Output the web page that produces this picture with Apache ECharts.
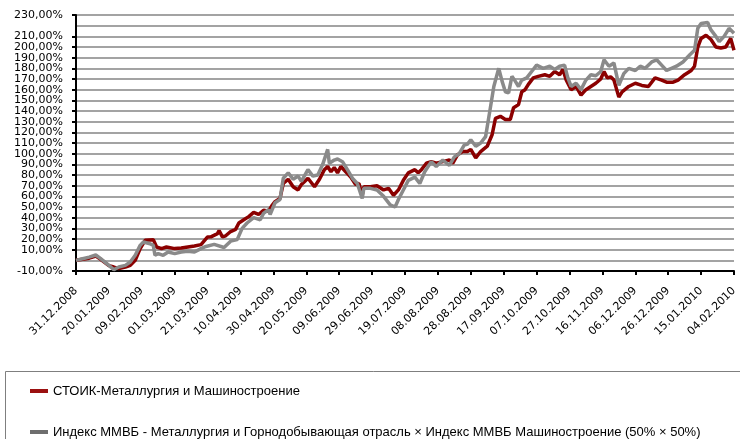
<!DOCTYPE html>
<html>
<head>
<meta charset="utf-8">
<script src="https://cdn.jsdelivr.net/npm/echarts@6/dist/echarts.min.js"></script>
<style>
  html, body { margin: 0; padding: 0; background: #fff; }
  #chart { width: 740px; height: 439px; }
</style>
</head>
<body>
<div id="chart"></div>
<script>
// names of the two series
const seriesNames = [
  'СТОИК-Металлургия и Машиностроение',
  'Индекс ММВБ - Металлургия и Горнодобывающая отрасль × Индекс ММВБ Машиностроение (50% × 50%)'
]
const seriesColors = ['#8b0000', '#8a8a8a']
// days since 31.12.2008 and values in %
const stoikDays = [0, 4, 8, 12, 15, 20, 23, 26, 30, 33, 36, 39, 42, 47, 49, 52, 55, 60, 64, 68, 72, 76, 80,
  82, 86, 87, 89, 91, 94, 97, 99, 102, 105, 108, 111, 114, 117, 119, 121, 124, 126, 129, 132, 135, 137, 139, 141,
  145, 148, 151, 153, 155, 157, 159, 161, 164, 167, 170, 172, 174, 175, 179, 183, 187, 190, 193, 196, 199, 202,
  206, 208, 210, 213, 216, 219, 223, 227, 229, 232, 235, 238, 240, 243, 246, 250, 253, 255, 258, 261, 264, 266,
  269, 271, 273, 275, 278, 281, 285, 288, 291, 294, 296, 298, 301, 304, 307, 310, 313, 316, 319, 321, 323, 325,
  327, 330, 332, 336, 340, 344, 348, 352, 356, 359, 363, 366, 370, 374, 376, 378, 380, 383, 386, 389, 392, 395,
  398, 400]
const stoikValues = [0, 1, 2, 4, 1, -5, -6.3, -7.8, -6.3, -4.7, 0, 11, 18.8, 19.4, 12.5, 11, 12.5, 11, 11.5, 12.5, 13.5, 14.7, 21.9,
  22, 25, 28, 22, 23, 27, 29, 35, 38, 41, 45, 43, 47, 46, 51, 55, 58, 72, 76, 69, 66, 71, 74, 77,
  69, 76, 85, 88, 83, 87, 82, 88, 83, 78, 71, 72, 61, 69, 69, 70, 66, 67.5, 61, 66, 75, 82,
  85, 82, 85, 91, 92.5, 91, 92.5, 94, 91, 99, 102, 102, 104, 96, 102, 107, 118, 133, 135, 132, 132, 143,
  146, 158, 160, 165, 171, 172.5, 174, 172.5, 177, 174, 179, 169, 160, 163, 155, 160, 163, 166, 170, 177, 171, 172,
  169, 153, 158, 163, 166, 164, 163, 171, 169, 167, 167, 169, 174, 178, 182, 200, 208, 211, 207, 200, 199, 200,
  208, 197]
const indexDays = [0, 4, 8, 12, 15, 20, 23, 26, 30, 33, 36, 39, 41, 45, 47, 48, 50, 53, 56, 60, 64, 68, 72, 76, 79,
  84, 90, 94, 98, 101, 104, 108, 112, 114, 117, 118, 121, 124, 126, 129, 132, 135, 137, 141, 144, 147, 150, 153,
  154, 157, 159, 162, 165, 168, 171, 174, 175, 179, 183, 187, 191, 194, 196, 199, 202, 206, 209, 212, 216, 219,
  223, 227, 230, 233, 236, 238, 240, 243, 246, 249, 252, 254, 257, 259, 261, 263, 265, 267, 269, 271, 274, 277,
  280, 284, 288, 291, 294, 297, 299, 301, 304, 307, 310, 313, 316, 319, 321, 324, 327, 330, 333, 336, 340, 343,
  346, 350, 353, 356, 359, 362, 365, 369, 373, 376, 378, 380, 384, 386, 389, 391, 394, 397, 400]
const indexValues = [0, 1.5, 3, 5, 1.6, -4.7, -8.8, -6.3, -4.7, -1.6, 4.7, 14, 17.2, 15.6, 14, 4.7, 6.3, 4.7, 7.8, 6.3, 7.8, 8.5, 7.8, 11, 13,
  15, 12, 18, 19.4, 30, 35, 40, 38, 44, 47.5, 43, 54, 57, 77, 82, 76, 79, 74, 85, 79, 80, 90, 104,
  91, 94, 95, 92.5, 85, 77, 72, 58, 67.5, 67.5, 66, 60, 52, 50, 57, 66, 75, 78, 72, 83, 92.5, 88,
  94, 89, 97, 100, 108, 109, 113, 107, 110, 116, 144, 163, 180, 168, 158, 157, 172.5, 168, 163, 169, 171, 177,
  183, 180, 182, 179, 182, 183, 171, 163, 166, 160, 169, 174, 173, 177, 188, 182, 185, 164, 175, 180, 178, 182,
  180, 186, 188, 183, 178, 180, 182, 186, 192.5, 197, 217.5, 222, 223, 216, 210, 205, 210, 217.5, 213]
// y axis range / ticks
const yMin = -10, yMax = 230, yStep = 10
// x axis: ticks every 20 days from 31.12.2008
const xStart = new Date(2008, 11, 31)
const xMax = 400, xStep = 20

const pad = n => (n < 10 ? '0' : '') + n
const dayLabel = d => {
  const dt = new Date(xStart.getFullYear(), xStart.getMonth(), xStart.getDate() + d)
  return pad(dt.getDate()) + '.' + pad(dt.getMonth() + 1) + '.' + dt.getFullYear()
}

const chart = echarts.init(document.getElementById('chart'), null, {renderer: 'canvas'})
const axisFont = {fontFamily: 'DejaVu Sans', fontSize: 11, color: '#000'}

// legend box drawn as graphic (the box runs past the bottom edge)
const legendRows = [391, 432]
const legendGraphic = [{
  type: 'rect',
  shape: {x: 5.5, y: 371.5, width: 740, height: 100},
  style: {fill: 'none', stroke: '#7f7f7f', lineWidth: 1},
  silent: true
}]
seriesNames.forEach((name, i) => {
  legendGraphic.push({
    type: 'rect', silent: true,
    shape: {x: 30, y: legendRows[i] - 2, width: 18, height: 4},
    style: {fill: i === 0 ? '#9b1010' : '#6e6e6e'}
  })
  legendGraphic.push({
    type: 'text', silent: true, x: 53, y: legendRows[i],
    style: {text: name, fill: '#000', font: '13px "Liberation Sans"', verticalAlign: 'middle', align: 'left'}
  })
})

chart.setOption({
  animation: false,
  backgroundColor: '#fff',
  grid: {left: 76, right: 1, top: 15, bottom: 168, containLabel: false},
  xAxis: {
    type: 'value',
    min: 0,
    max: xMax,
    interval: xStep,
    axisLine: {onZero: false, lineStyle: {color: '#000', width: 2}},
    axisTick: {show: true, length: 4, lineStyle: {color: '#000', width: 2}},
    splitLine: {show: false},
    axisLabel: Object.assign({rotate: 45, margin: 18, formatter: v => dayLabel(v)}, axisFont)
  },
  yAxis: {
    type: 'value',
    min: yMin,
    max: yMax,
    interval: yStep,
    axisLine: {show: true, lineStyle: {color: '#000', width: 2}},
    axisTick: {show: true, length: 4, lineStyle: {color: '#000', width: 2}},
    splitLine: {show: true, lineStyle: {color: '#a3a3a3', width: 2}},
    axisLabel: Object.assign({
      margin: 13, lineHeight: 9, showMinLabel: true, showMaxLabel: true,
      formatter: v => v.toFixed(2).replace('.', ',') + '%'
    }, axisFont)
  },
  graphic: legendGraphic,
  series: [
    {
      name: seriesNames[0],
      type: 'line',
      showSymbol: false,
      symbol: 'none',
      color: seriesColors[0],
      lineStyle: {width: 3.5, color: seriesColors[0]},
      data: stoikDays.map((d, i) => [d, stoikValues[i]])
    },
    {
      name: seriesNames[1],
      type: 'line',
      showSymbol: false,
      symbol: 'none',
      color: seriesColors[1],
      lineStyle: {width: 3.5, color: seriesColors[1]},
      data: indexDays.map((d, i) => [d, indexValues[i]])
    }
  ]
})
</script>
</body>
</html>
